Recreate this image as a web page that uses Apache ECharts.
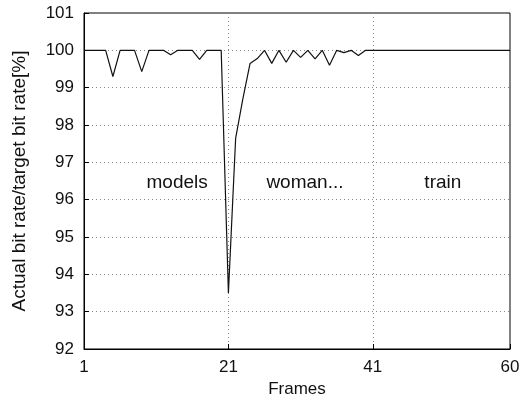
<!DOCTYPE html>
<html>
<head>
<meta charset="utf-8">
<script src="https://cdn.jsdelivr.net/npm/echarts@6/dist/echarts.min.js"></script>
<style>html,body{margin:0;padding:0;background:#fff;}#c{width:523px;height:397px;}</style>
</head>
<body>
<div id="c"></div>
<script>
const frames = Array.from({length: 60}, (_, i) => i + 1);
const rates = [
  100, 100, 100, 100, 99.3, 100, 100, 100, 99.43, 100,
  100, 100, 99.88, 100, 100, 100, 99.76, 100, 100, 100,
  93.5, 97.64, 98.7, 99.65, 99.78, 100, 99.65, 100, 99.68, 100,
  99.81, 100, 99.77, 100, 99.6, 100, 99.94, 100, 99.86, 100,
  100, 100, 100, 100, 100, 100, 100, 100, 100, 100,
  100, 100, 100, 100, 100, 100, 100, 100, 100, 100
];
const xTicks = [1, 21, 41, 60];
const annotations = [
  {name: 'models', frame: 13.9, value: 96.45},
  {name: 'woman...', frame: 31.6, value: 96.45},
  {name: 'train', frame: 50.7, value: 96.45}
];

const font = 'Liberation Sans, Arial, Helvetica, sans-serif';
const chart = echarts.init(document.getElementById('c'), null, {renderer: 'canvas'});
chart.setOption({
  animation: false,
  backgroundColor: '#fff',
  grid: {left: 84, right: 13, top: 13, bottom: 48, outerBoundsMode: 'none', containLabel: false, show: true, borderColor: '#000', borderWidth: 1, backgroundColor: 'transparent'},
  xAxis: {
    type: 'value', min: 1, max: 60,
    name: 'Frames', nameLocation: 'middle', nameGap: 25,
    nameTextStyle: {fontFamily: font, fontSize: 17, color: '#111'},
    axisLine: {show: true, lineStyle: {color: '#000', width: 1}},
    axisTick: {show: true, inside: true, length: 5, customValues: xTicks, lineStyle: {color: '#000'}},
    axisLabel: {customValues: xTicks, fontFamily: font, fontSize: 17, color: '#111', margin: 10},
    splitLine: {show: true, lineStyle: {color: '#888', type: [1, 3], width: 1}}
  },
  yAxis: {
    type: 'value', min: 92, max: 101, interval: 1,
    name: 'Actual bit rate/target bit rate[%]', nameLocation: 'middle', nameGap: 55,
    nameTextStyle: {fontFamily: font, fontSize: 19, color: '#111'},
    axisLine: {show: true, lineStyle: {color: '#000', width: 1}},
    axisTick: {show: true, inside: true, length: 5, lineStyle: {color: '#000'}},
    axisLabel: {fontFamily: font, fontSize: 17, color: '#111', margin: 10, padding: [0, 0, 8, 0]},
    splitLine: {show: true, lineStyle: {color: '#888', type: [1, 3], width: 1}}
  },
  series: [{
    type: 'line',
    data: frames.map((f, i) => [f, rates[i]]),
    showSymbol: false,
    symbol: 'none',
    lineStyle: {color: '#111', width: 1.2},
    markPoint: {
      symbol: 'rect', symbolSize: 1,
      itemStyle: {color: 'transparent'},
      label: {show: true, position: 'inside', fontFamily: font, fontSize: 19, color: '#111', formatter: p => p.name},
      data: annotations.map(a => ({name: a.name, coord: [a.frame, a.value]}))
    }
  }]
});
</script>
</body>
</html>
